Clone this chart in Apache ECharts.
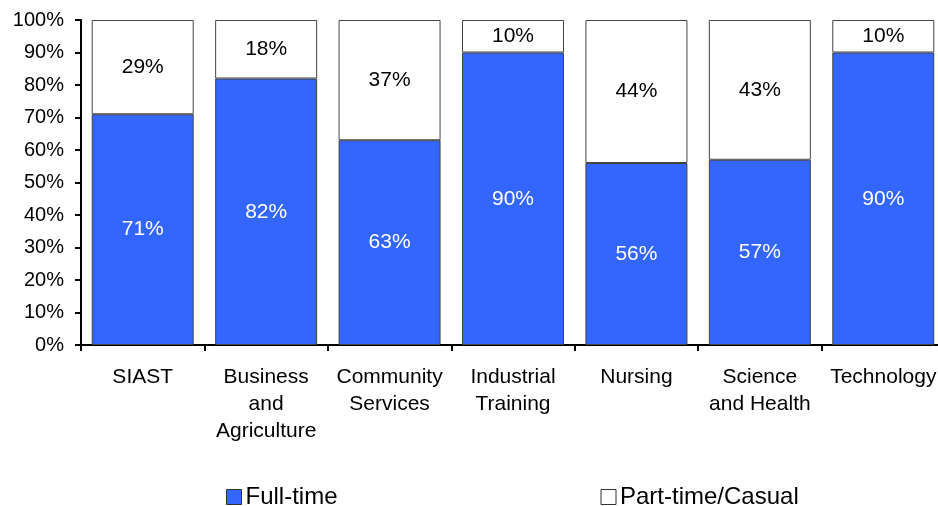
<!DOCTYPE html>
<html><head><meta charset="utf-8">
<script src="https://cdn.jsdelivr.net/npm/echarts@6/dist/echarts.min.js"></script>
<style>html,body{margin:0;padding:0;background:#fff}#c{width:938px;height:506px}</style>
</head><body><div id="c"></div>
<script>
const categories = ['SIAST', 'Business\nand\nAgriculture', 'Community\nServices', 'Industrial\nTraining', 'Nursing', 'Science\nand Health', 'Technology'];
const fullTime = [71, 82, 63, 90, 56, 57, 90];
const partTime = [29, 18, 37, 10, 44, 43, 10];
const yTicks = [0, 10, 20, 30, 40, 50, 60, 70, 80, 90, 100];

const font = 'Liberation Sans, Arial, sans-serif';
const chart = echarts.init(document.getElementById('c'));
chart.setOption({
  animation: false,
  textStyle: { fontFamily: font },
  grid: { left: 81, width: 864, top: 20, height: 325, outerBoundsMode: 'none' },
  legend: {
    left: 221, top: 480, itemWidth: 15, itemHeight: 15, itemGap: 263,
    textStyle: { fontSize: 24, color: '#000', fontFamily: font, padding: [0, 0, 0, -1] },
    data: [
      { name: 'Full-time', icon: 'rect', itemStyle: { color: '#3366FF', borderColor: '#333', borderWidth: 1 } },
      { name: 'Part-time/Casual', icon: 'rect', itemStyle: { color: '#fff', borderColor: '#333', borderWidth: 1 } }
    ]
  },
  xAxis: {
    type: 'category', data: categories,
    axisLine: { lineStyle: { color: '#000', width: 2 } },
    axisTick: { show: true, length: 6, inside: false, lineStyle: { color: '#000', width: 2 } },
    axisLabel: { fontSize: 21, color: '#000', lineHeight: 27, margin: 19, interval: 0, fontFamily: font }
  },
  yAxis: {
    type: 'value', min: 0, max: 100, interval: 10,
    axisLine: { show: true, lineStyle: { color: '#000', width: 2 } },
    axisTick: { show: true, length: 6, lineStyle: { color: '#000', width: 2 } },
    splitLine: { show: false },
    axisLabel: { fontSize: 20, color: '#000', margin: 17, fontFamily: font,
      formatter: v => yTicks.includes(v) ? v + '%' : '' }
  },
  series: [
    {
      name: 'Full-time', type: 'bar', stack: 't', data: fullTime, barWidth: 102,
      itemStyle: { color: '#3366FF', borderColor: '#444', borderWidth: 1 },
      label: { show: true, position: 'inside', color: '#fff', fontSize: 21, fontFamily: font, formatter: '{c}%' }
    },
    {
      name: 'Part-time/Casual', type: 'bar', stack: 't', data: partTime, barWidth: 102,
      itemStyle: { color: '#fff', borderColor: '#444', borderWidth: 1 },
      label: { show: true, position: 'inside', color: '#000', fontSize: 21, fontFamily: font, formatter: '{c}%' }
    }
  ]
});
</script></body></html>
